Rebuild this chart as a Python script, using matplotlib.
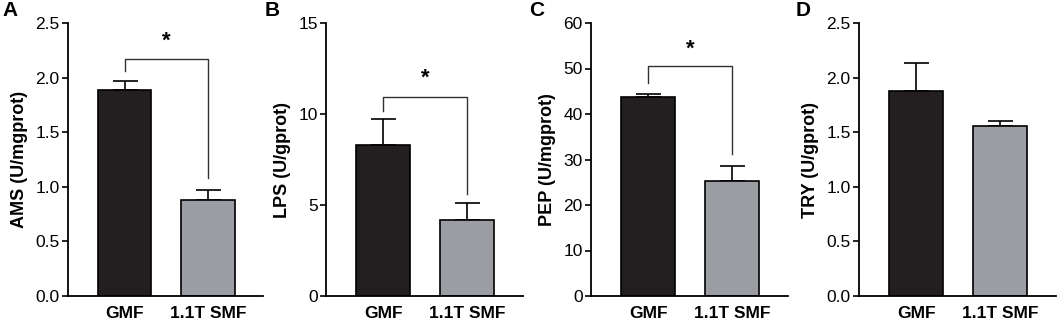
import matplotlib
matplotlib.use("Agg")
import matplotlib.pyplot as plt

plt.rcParams['font.family'] = ['Liberation Sans', 'DejaVu Sans']

categories = ["GMF", "1.1T SMF"]
panel_letters = ["A", "B", "C", "D"]
ylabels = ["AMS (U/mgprot)", "LPS (U/gprot)", "PEP (U/mgprot)", "TRY (U/gprot)"]

ams_mean = [1.89, 0.88]
ams_err = [0.08, 0.09]
lps_mean = [8.3, 4.2]
lps_err = [1.4, 0.9]
pep_mean = [43.8, 25.3]
pep_err = [0.7, 3.3]
try_mean = [1.88, 1.555]
try_err = [0.25, 0.05]

ylims = [(0, 2.5), (0, 15), (0, 60), (0, 2.5)]
yticks = [[0.0, 0.5, 1.0, 1.5, 2.0, 2.5], [0, 5, 10, 15],
          [0, 10, 20, 30, 40, 50, 60], [0.0, 0.5, 1.0, 1.5, 2.0, 2.5]]
ytick_labels = [["0.0", "0.5", "1.0", "1.5", "2.0", "2.5"], ["0", "5", "10", "15"],
                ["0", "10", "20", "30", "40", "50", "60"],
                ["0.0", "0.5", "1.0", "1.5", "2.0", "2.5"]]

# significance brackets: (bracket height, left drop end, right drop end, star height) or None
brackets = [(2.17, 2.06, 1.08, 2.24), (10.94, 10.16, 5.63, 11.4), (50.5, 46.9, 31.3, 52.0), None]

means = [ams_mean, lps_mean, pep_mean, try_mean]
errs = [ams_err, lps_err, pep_err, try_err]

W, H = 1059, 322
fig = plt.figure(figsize=(W / 100, H / 100), dpi=100)

# axes pixel boxes: left, right
boxes = [(68, 263), (326, 523), (591, 788), (859, 1056)]
bottom_px, top_px = 296, 23
letter_x = [2, 265, 529, 796]

bar_colors = ["#231f20", "#9b9da3"]

for i in range(4):
    l, r = boxes[i]
    ax = fig.add_axes([l / W, 1 - bottom_px / H, (r - l) / W, (bottom_px - top_px) / H])
    x = [0, 1]
    ax.bar(x, means[i], width=0.64, color=bar_colors, edgecolor="black", linewidth=1.2, zorder=2)
    ax.errorbar(x, means[i], yerr=[[0, 0], errs[i]], fmt="none", ecolor="black",
                elinewidth=1.2, capsize=9, capthick=1.2, zorder=1)
    ax.set_xlim(-0.68, 1.66)
    ax.set_ylim(*ylims[i])
    ax.set_yticks(yticks[i])
    ax.set_yticklabels(ytick_labels[i], fontsize=12.5)
    ax.set_xticks(x)
    ax.set_xticklabels(categories, fontsize=12.5, fontweight="bold")
    ax.tick_params(axis="x", length=0, pad=7)
    ax.tick_params(axis="y", direction="out", length=4, width=1.2, pad=2)
    for s in ["top", "right"]:
        ax.spines[s].set_visible(False)
    for s in ["left", "bottom"]:
        ax.spines[s].set_linewidth(1.3)
    ax.set_ylabel(ylabels[i], fontsize=13, fontweight="bold", labelpad=5)
    if brackets[i] is not None:
        h, ld, rd, sh = brackets[i]
        ax.plot([0, 0, 1, 1], [ld, h, h, rd], color="#333333", linewidth=1.0, zorder=3)
        ax.text(0.5, sh, "*", ha="center", va="bottom", fontsize=16, fontweight="bold")
    fig.text(letter_x[i] / W, 1 - 11 / H, panel_letters[i], fontsize=15, fontweight="bold",
             ha="left", va="center")

fig.savefig("out.png", dpi=100)
